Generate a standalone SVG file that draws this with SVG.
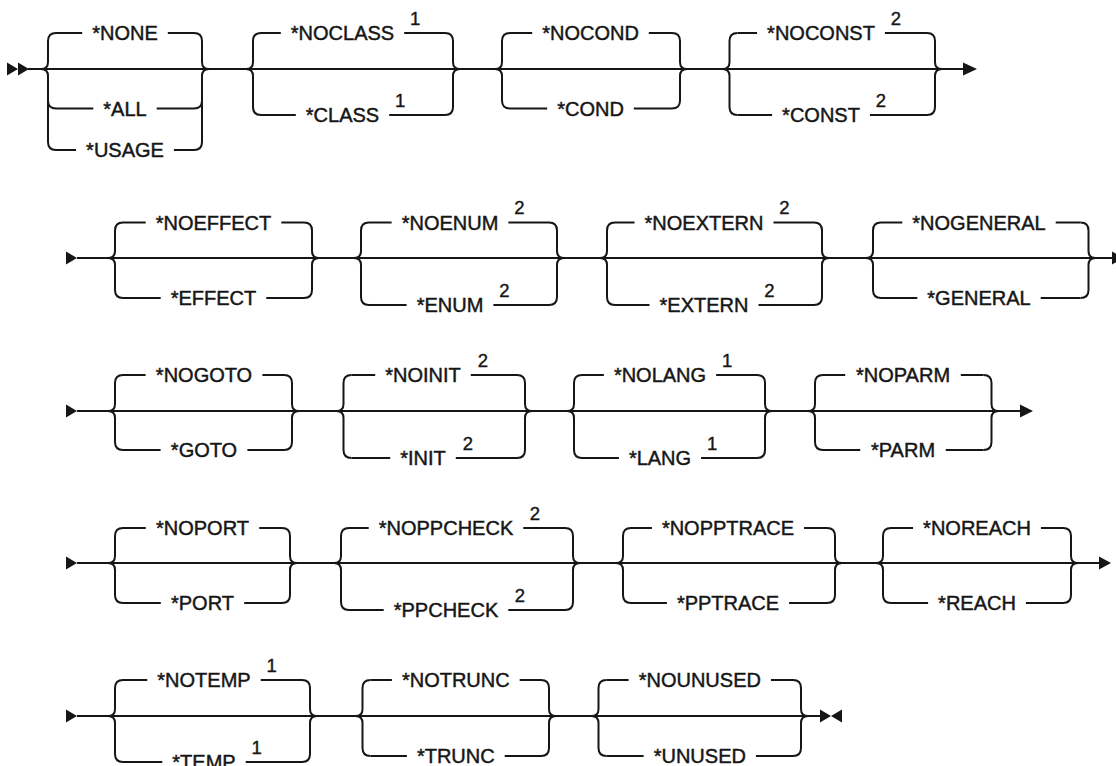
<svg xmlns="http://www.w3.org/2000/svg" width="1116" height="766" viewBox="0 0 1116 766">
<style>
.ln{fill:none;stroke:#161616;stroke-width:2}
.mk{fill:#161616;stroke:none}
.t{font-family:"Liberation Sans",Arial,sans-serif;font-size:20px;fill:#161616;stroke:#161616;stroke-width:0.45;text-anchor:middle}
.s{font-family:"Liberation Sans",Arial,sans-serif;font-size:18.5px;fill:#161616;stroke:#161616;stroke-width:0.4;text-anchor:middle}
</style>
<rect width="1116" height="766" fill="#ffffff"/>
<g id="connectors">
<path class="ln" d="M28,69 H963 M77,258 H1112 M77,411 H1020 M77,563 H1099 M77,716 H820"/>
<path class="mk" d="M7,62.5 L18,69 L7,75.5 Z M18,62.5 L29,69 L18,75.5 Z"/>
<path class="mk" d="M963,62.5 L977,69 L963,75.5 Z"/>
<path class="mk" d="M66,251.5 L77,258 L66,264.5 Z M1112,251.5 L1124,258 L1112,264.5 Z"/>
<path class="mk" d="M66,404.5 L77,411 L66,417.5 Z M1020,404.5 L1033,411 L1020,417.5 Z"/>
<path class="mk" d="M66,556.5 L77,563 L66,569.5 Z M1099,556.5 L1111,563 L1099,569.5 Z"/>
<path class="mk" d="M66,709.5 L77,716 L66,722.5 Z M820,709.5 L831,716 L820,722.5 Z M842,709.5 L831,716 L842,722.5 Z"/>
</g>
<g id="g-none">
<path class="ln" d="M56,33 Q48,33 48,41 V62 Q48,69 41,69 Q48,69 48,76 V142 Q48,150 56,150 M48,100.5 Q48,108.5 56,108.5"/>
<path class="ln" d="M194,33 Q202,33 202,41 V62 Q202,69 209,69 Q202,69 202,76 V142 Q202,150 194,150 M202,100.5 Q202,108.5 194,108.5"/>
<path class="ln" d="M56,33 H82.2 M167.8,33 H194 M56,108.5 H93.3 M156.7,108.5 H194 M56,150 H76.1 M173.9,150 H194"/>
<text class="t" x="125" y="40">*NONE</text>
<text class="t" x="125" y="115.5">*ALL</text>
<text class="t" x="125" y="157">*USAGE</text>
</g>
<g id="g-class">
<path class="ln" d="M261,33 Q253,33 253,41 V62 Q253,69 246,69 Q253,69 253,76 V107 Q253,115 261,115"/>
<path class="ln" d="M445,33 Q453,33 453,41 V62 Q453,69 460,69 Q453,69 453,76 V107 Q453,115 445,115"/>
<path class="ln" d="M261,33 H280.8 M404.2,33 H445 M261,115 H295.8 M389.2,115 H445"/>
<text class="t" x="342.5" y="40">*NOCLASS</text>
<text class="s" x="415.2" y="24.5">1</text>
<text class="t" x="342.5" y="122">*CLASS</text>
<text class="s" x="400.2" y="106.5">1</text>
</g>
<g id="g-cond">
<path class="ln" d="M510,33 Q502,33 502,41 V62 Q502,69 495,69 Q502,69 502,76 V100.5 Q502,108.5 510,108.5"/>
<path class="ln" d="M672,33 Q680,33 680,41 V62 Q680,69 687,69 Q680,69 680,76 V100.5 Q680,108.5 672,108.5"/>
<path class="ln" d="M510,33 H532.2 M648.8,33 H672 M510,108.5 H547.2 M633.8,108.5 H672"/>
<text class="t" x="590.5" y="40">*NOCOND</text>
<text class="t" x="590.5" y="115.5">*COND</text>
</g>
<g id="g-const">
<path class="ln" d="M737.5,33 Q729.5,33 729.5,41 V62 Q729.5,69 722.5,69 Q729.5,69 729.5,76 V107 Q729.5,115 737.5,115"/>
<path class="ln" d="M927,33 Q935,33 935,41 V62 Q935,69 942,69 Q935,69 935,76 V107 Q935,115 927,115"/>
<path class="ln" d="M737.5,33 H757.1 M884.9,33 H927 M737.5,115 H772.1 M869.9,115 H927"/>
<text class="t" x="821" y="40">*NOCONST</text>
<text class="s" x="895.9" y="24.5">2</text>
<text class="t" x="821" y="122">*CONST</text>
<text class="s" x="880.9" y="106.5">2</text>
</g>
<g id="g-effect">
<path class="ln" d="M123,222.5 Q115,222.5 115,230.5 V251 Q115,258 108,258 Q115,258 115,265 V290 Q115,298 123,298"/>
<path class="ln" d="M304,222.5 Q312,222.5 312,230.5 V251 Q312,258 319,258 Q312,258 312,265 V290 Q312,298 304,298"/>
<path class="ln" d="M123,222.5 H145.7 M281.3,222.5 H304 M123,298 H160.7 M266.3,298 H304"/>
<text class="t" x="213.5" y="229.5">*NOEFFECT</text>
<text class="t" x="213.5" y="305">*EFFECT</text>
</g>
<g id="g-enum">
<path class="ln" d="M369,222.5 Q361,222.5 361,230.5 V251 Q361,258 354,258 Q361,258 361,265 V297 Q361,305 369,305"/>
<path class="ln" d="M549,222.5 Q557,222.5 557,230.5 V251 Q557,258 564,258 Q557,258 557,265 V297 Q557,305 549,305"/>
<path class="ln" d="M369,222.5 H391.6 M508.4,222.5 H549 M369,305 H406.6 M493.4,305 H549"/>
<text class="t" x="450" y="229.5">*NOENUM</text>
<text class="s" x="519.4" y="214">2</text>
<text class="t" x="450" y="312">*ENUM</text>
<text class="s" x="504.4" y="296.5">2</text>
</g>
<g id="g-extern">
<path class="ln" d="M615,222.5 Q607,222.5 607,230.5 V251 Q607,258 600,258 Q607,258 607,265 V297 Q607,305 615,305"/>
<path class="ln" d="M814,222.5 Q822,222.5 822,230.5 V251 Q822,258 829,258 Q822,258 822,265 V297 Q822,305 814,305"/>
<path class="ln" d="M615,222.5 H634.5 M773.5,222.5 H814 M615,305 H649.5 M758.5,305 H814"/>
<text class="t" x="704" y="229.5">*NOEXTERN</text>
<text class="s" x="784.5" y="214">2</text>
<text class="t" x="704" y="312">*EXTERN</text>
<text class="s" x="769.5" y="296.5">2</text>
</g>
<g id="g-general">
<path class="ln" d="M881,222.5 Q873,222.5 873,230.5 V251 Q873,258 866,258 Q873,258 873,265 V290 Q873,298 881,298"/>
<path class="ln" d="M1080.5,222.5 Q1088.5,222.5 1088.5,230.5 V251 Q1088.5,258 1095.5,258 Q1088.5,258 1088.5,265 V290 Q1088.5,298 1080.5,298"/>
<path class="ln" d="M881,222.5 H902.3 M1055.7,222.5 H1080.5 M881,298 H917.3 M1040.7,298 H1080.5"/>
<text class="t" x="979" y="229.5">*NOGENERAL</text>
<text class="t" x="979" y="305">*GENERAL</text>
</g>
<g id="g-goto">
<path class="ln" d="M123,375 Q115,375 115,383 V404 Q115,411 108,411 Q115,411 115,418 V442 Q115,450 123,450"/>
<path class="ln" d="M284,375 Q292,375 292,383 V404 Q292,411 299,411 Q292,411 292,418 V442 Q292,450 284,450"/>
<path class="ln" d="M123,375 H145.6 M262.4,375 H284 M123,450 H160.6 M247.4,450 H284"/>
<text class="t" x="204" y="382">*NOGOTO</text>
<text class="t" x="204" y="457">*GOTO</text>
</g>
<g id="g-init">
<path class="ln" d="M351.5,375 Q343.5,375 343.5,383 V404 Q343.5,411 336.5,411 Q343.5,411 343.5,418 V450 Q343.5,458 351.5,458"/>
<path class="ln" d="M517,375 Q525,375 525,383 V404 Q525,411 532,411 Q525,411 525,418 V450 Q525,458 517,458"/>
<path class="ln" d="M351.5,375 H375.2 M470.8,375 H517 M351.5,458 H390.2 M455.8,458 H517"/>
<text class="t" x="423" y="382">*NOINIT</text>
<text class="s" x="483" y="366.5">2</text>
<text class="t" x="423" y="465">*INIT</text>
<text class="s" x="468" y="449.5">2</text>
</g>
<g id="g-lang">
<path class="ln" d="M582,375 Q574,375 574,383 V404 Q574,411 567,411 Q574,411 574,418 V450 Q574,458 582,458"/>
<path class="ln" d="M757,375 Q765,375 765,383 V404 Q765,411 772,411 Q765,411 765,418 V450 Q765,458 757,458"/>
<path class="ln" d="M582,375 H603.9 M716.1,375 H757 M582,458 H618.9 M701.1,458 H757"/>
<text class="t" x="660" y="382">*NOLANG</text>
<text class="s" x="727.1" y="366.5">1</text>
<text class="t" x="660" y="465">*LANG</text>
<text class="s" x="712.1" y="449.5">1</text>
</g>
<g id="g-parm">
<path class="ln" d="M823,375 Q815,375 815,383 V404 Q815,411 808,411 Q815,411 815,418 V442 Q815,450 823,450"/>
<path class="ln" d="M983.5,375 Q991.5,375 991.5,383 V404 Q991.5,411 998.5,411 Q991.5,411 991.5,418 V442 Q991.5,450 983.5,450"/>
<path class="ln" d="M823,375 H845.2 M960.8,375 H983.5 M823,450 H860.2 M945.8,450 H983.5"/>
<text class="t" x="903" y="382">*NOPARM</text>
<text class="t" x="903" y="457">*PARM</text>
</g>
<g id="g-port">
<path class="ln" d="M123,528 Q115,528 115,536 V556 Q115,563 108,563 Q115,563 115,570 V595 Q115,603 123,603"/>
<path class="ln" d="M282,528 Q290,528 290,536 V556 Q290,563 297,563 Q290,563 290,570 V595 Q290,603 282,603"/>
<path class="ln" d="M123,528 H145.8 M259.2,528 H282 M123,603 H160.8 M244.2,603 H282"/>
<text class="t" x="202.5" y="535">*NOPORT</text>
<text class="t" x="202.5" y="610">*PORT</text>
</g>
<g id="g-ppcheck">
<path class="ln" d="M349,528 Q341,528 341,536 V556 Q341,563 334,563 Q341,563 341,570 V602 Q341,610 349,610"/>
<path class="ln" d="M565,528 Q573,528 573,536 V556 Q573,563 580,563 Q573,563 573,570 V602 Q573,610 565,610"/>
<path class="ln" d="M349,528 H368.7 M523.3,528 H565 M349,610 H383.7 M508.3,610 H565"/>
<text class="t" x="446" y="535">*NOPPCHECK</text>
<text class="s" x="535" y="519.5">2</text>
<text class="t" x="446" y="617">*PPCHECK</text>
<text class="s" x="520" y="601.5">2</text>
</g>
<g id="g-pptrace">
<path class="ln" d="M631,528 Q623,528 623,536 V556 Q623,563 616,563 Q623,563 623,570 V595 Q623,603 631,603"/>
<path class="ln" d="M827,528 Q835,528 835,536 V556 Q835,563 842,563 Q835,563 835,570 V595 Q835,603 827,603"/>
<path class="ln" d="M631,528 H651.9 M804.1,528 H827 M631,603 H666.9 M789.1,603 H827"/>
<text class="t" x="728" y="535">*NOPPTRACE</text>
<text class="t" x="728" y="610">*PPTRACE</text>
</g>
<g id="g-reach">
<path class="ln" d="M891,528 Q883,528 883,536 V556 Q883,563 876,563 Q883,563 883,570 V595 Q883,603 891,603"/>
<path class="ln" d="M1063,528 Q1071,528 1071,536 V556 Q1071,563 1078,563 Q1071,563 1071,570 V595 Q1071,603 1063,603"/>
<path class="ln" d="M891,528 H913.1 M1040.9,528 H1063 M891,603 H928.1 M1025.9,603 H1063"/>
<text class="t" x="977" y="535">*NOREACH</text>
<text class="t" x="977" y="610">*REACH</text>
</g>
<g id="g-temp">
<path class="ln" d="M123,680 Q115,680 115,688 V709 Q115,716 108,716 Q115,716 115,723 V754 Q115,762 123,762"/>
<path class="ln" d="M302,680 Q310,680 310,688 V709 Q310,716 317,716 Q310,716 310,723 V754 Q310,762 302,762"/>
<path class="ln" d="M123,680 H147.3 M260.7,680 H302 M123,762 H162.3 M245.7,762 H302"/>
<text class="t" x="204" y="687">*NOTEMP</text>
<text class="s" x="271.7" y="671.5">1</text>
<text class="t" x="204" y="769">*TEMP</text>
<text class="s" x="256.7" y="753.5">1</text>
</g>
<g id="g-trunc">
<path class="ln" d="M370.5,680 Q362.5,680 362.5,688 V709 Q362.5,716 355.5,716 Q362.5,716 362.5,723 V748 Q362.5,756 370.5,756"/>
<path class="ln" d="M541,680 Q549,680 549,688 V709 Q549,716 556,716 Q549,716 549,723 V748 Q549,756 541,756"/>
<path class="ln" d="M370.5,680 H391.9 M519.7,680 H541 M370.5,756 H406.9 M504.7,756 H541"/>
<text class="t" x="455.8" y="687">*NOTRUNC</text>
<text class="t" x="455.8" y="763">*TRUNC</text>
</g>
<g id="g-unused">
<path class="ln" d="M606.5,680 Q598.5,680 598.5,688 V709 Q598.5,716 591.5,716 Q598.5,716 598.5,723 V748 Q598.5,756 606.5,756"/>
<path class="ln" d="M793,680 Q801,680 801,688 V709 Q801,716 808,716 Q801,716 801,723 V748 Q801,756 793,756"/>
<path class="ln" d="M606.5,680 H628.6 M770.9,680 H793 M606.5,756 H643.6 M755.9,756 H793"/>
<text class="t" x="699.8" y="687">*NOUNUSED</text>
<text class="t" x="699.8" y="763">*UNUSED</text>
</g>
</svg>
